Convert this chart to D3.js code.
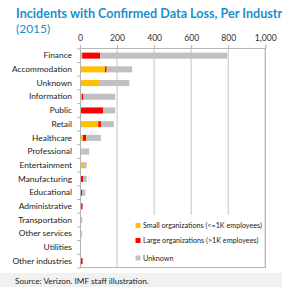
<!DOCTYPE html>
<html><head><meta charset="utf-8">
<script src="https://cdn.jsdelivr.net/npm/d3@7"></script>
<style>body{margin:0;background:#fff;overflow:hidden}svg{display:block}</style>
</head><body>
<svg id="c" width="282" height="287"></svg>
<script>
const categories = ["Finance","Accommodation","Unknown","Information","Public","Retail","Healthcare","Professional","Entertainment","Manufacturing","Educational","Administrative","Transportation","Other services","Utilities","Other industries"];
const smallOrg = [12,135,108,9,0,99,16,12,22,3,0,6,0,9,0,2];
const largeOrg = [96,9,0,9,124,14,18,0,0,15,11,8,0,0,0,12];
const unknownOrg = [687,138,158,172,66,70,79,38,14,18,18,0,12,3,2,0];
const tickValues = [0,200,400,600,800,1000];
const seriesNames = ["Small organizations (<=1K employees)","Large organizations (>1K employees)","Unknown"];
const seriesKeys = ["small","large","unknown"];
const colors = ["#FFC000","#FF0000","#C0C0C0"];

const svg = d3.select("#c");
const font = "Lato, 'Open Sans', sans-serif";

// bottom band
svg.append("rect").attr("x",0).attr("y",273).attr("width",282).attr("height",14).attr("fill","#f1f1f1");

svg.append("text").attr("x",16).attr("y",18).attr("font-family",font).attr("font-weight","bold")
  .attr("font-size",12.6).attr("fill","#1b8fcb").text("Incidents with Confirmed Data Loss, Per Industry");
svg.append("text").attr("x",16).attr("y",33).attr("font-family",font)
  .attr("font-size",12).attr("fill","#1b8fcb").text("(2015)");

const x = d3.scaleLinear().domain([0,1000]).range([80,265.3]);
const y = d3.scaleBand().domain(categories).range([48.8,268]).paddingInner(0.56).paddingOuter(0.28);

const data = categories.map((c,i)=>({cat:c, small:smallOrg[i], large:largeOrg[i], unknown:unknownOrg[i]}));
const stack = d3.stack().keys(seriesKeys)(data);

// gridlines
svg.append("g").selectAll("line").data(tickValues.slice(1)).join("line")
  .attr("x1",d=>x(d)).attr("x2",d=>x(d)).attr("y1",48).attr("y2",268)
  .attr("stroke","#cfcfcf").attr("stroke-width",1.2);

// bars
svg.append("g").selectAll("g").data(stack).join("g").attr("fill",(d,i)=>colors[i])
  .selectAll("rect").data(d=>d).join("rect")
  .attr("x",d=>x(d[0])).attr("width",d=>x(d[1])-x(d[0]))
  .attr("y",d=>y(d.data.cat)).attr("height",y.bandwidth());

// legend background
const lg = svg.append("g");
lg.append("rect").attr("x",133).attr("y",215).attr("width",131).attr("height",52).attr("fill","#fff");
seriesNames.forEach((n,i)=>{
  const yy = [225.5,240.5,258][i];
  lg.append("rect").attr("x",135.5).attr("y",yy-2.5).attr("width",5).attr("height",5).attr("fill",colors[i]);
  lg.append("text").attr("x",143).attr("y",yy+2.5).attr("font-family",font).attr("font-size",7.2)
    .attr("fill","#222").text(n);
});

// frame lines
svg.append("line").attr("x1",x(1000)).attr("x2",x(1000)).attr("y1",48).attr("y2",268).attr("stroke","#b5b5b5");
svg.append("line").attr("x1",80).attr("x2",x(1000)).attr("y1",267.5).attr("y2",267.5).attr("stroke","#b5b5b5");

// top axis
const xa = svg.append("g").attr("transform","translate(0,48)")
  .call(d3.axisTop(x).tickValues(tickValues).tickSize(3).tickPadding(4).tickFormat(d3.format(",")));
xa.select(".domain").attr("stroke","#b5b5b5");
xa.selectAll(".tick line").attr("stroke","#b5b5b5");
xa.selectAll("text").attr("font-family",font).attr("font-size",8.6).attr("fill","#333");

// left axis
const ya = svg.append("g").attr("transform","translate(80,0)")
  .call(d3.axisLeft(y).tickSize(0).tickPadding(8));
ya.select(".domain").attr("stroke","#b5b5b5");
ya.selectAll("text").attr("font-family",font).attr("font-size",8.4).attr("fill","#222");
// ticks between categories
const step = y.step();
ya.selectAll("line.sep").data(d3.range(categories.length+1)).join("line").attr("class","sep")
  .attr("x1",-3).attr("x2",0)
  .attr("y1",i=>48.8+i*step).attr("y2",i=>48.8+i*step).attr("stroke","#b5b5b5");

svg.append("text").attr("x",15).attr("y",284).attr("font-family",font).attr("font-size",8.2)
  .attr("fill","#222").text("Source: Verizon. IMF staff illustration.");
</script>
</body></html>
